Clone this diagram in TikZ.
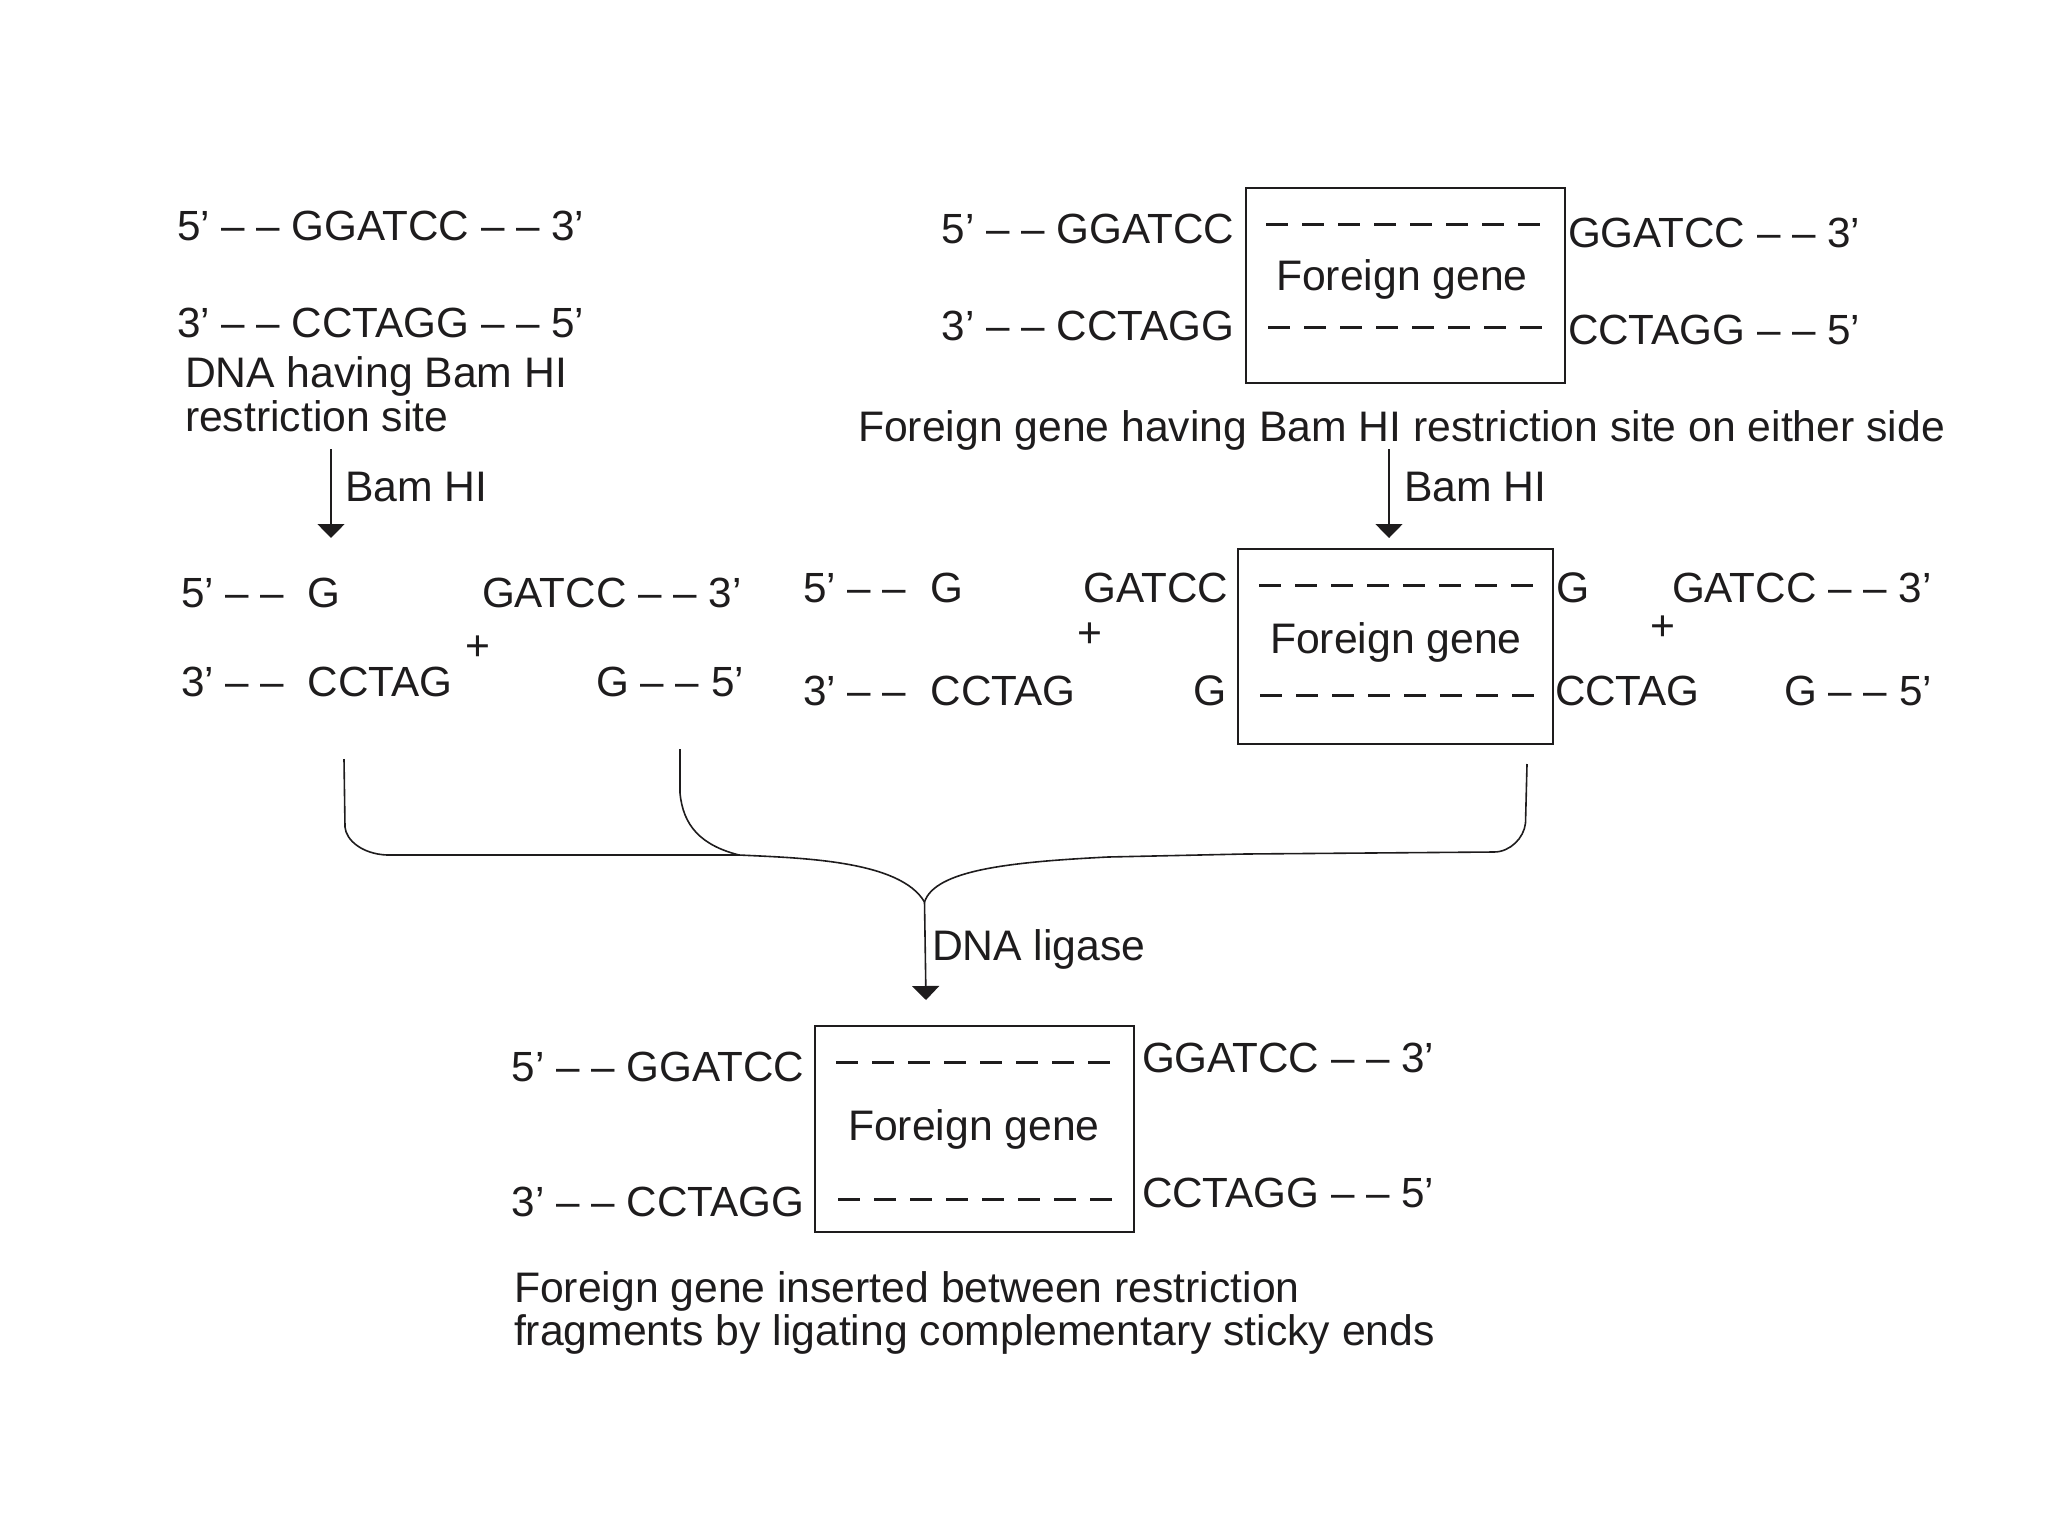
\documentclass[tikz,border=0pt]{standalone}
\usepackage{fontspec}
\setmainfont{Liberation Sans}
\usetikzlibrary{arrows.meta}
\definecolor{ink}{RGB}{30,28,29}
\tikzset{
  lbl/.style={anchor=base west,inner sep=0pt,outer sep=0pt,text=ink,font=\fontsize{21.35}{22}\selectfont},
  rlbl/.style={lbl,anchor=base east},
  seq/.style={font=\fontsize{21.1}{22}\selectfont},
  plus/.style={anchor=center,inner sep=0pt,text=ink,font=\fontsize{21.35}{22}\selectfont},
  gbox/.style={draw=ink,line width=1pt,inner sep=0pt,anchor=north west},
  strand/.style={draw=ink,line width=1.5pt,dash pattern=on 11pt off 7pt},
  link/.style={draw=ink,line width=0.8pt},
  arr/.style={link,-{Triangle[width=13.5pt,length=7pt]}}
}
\begin{document}
\begin{tikzpicture}[x=0.5pt,y=-0.5pt]
\useasboundingbox (0,0) rectangle (2048,1536);

% DNA with site
\node[lbl,seq] (a1) at (177,240) {5’ – – GGATCC – – 3’};
\node[lbl,seq] (a2) at (177,337) {3’ – – CCTAGG – – 5’};
\node[lbl] (a3) at (185,387) {DNA having Bam HI};
\node[lbl] (a4) at (185,431) {restriction site};
\coordinate (p1) at (331,449);
\coordinate (p2) at (331,538);
\draw[arr] (p1) -- (p2);
\node[lbl] (a5) at (345,501) {Bam HI};

% foreign gene with sites
\node[gbox,minimum width=159.5pt,minimum height=97.5pt] (box1) at (1244.7,186.7) {};
\node[rlbl,seq] (b1) at (1234,243) {5’ – – GGATCC};
\node[rlbl,seq] (b2) at (1234,340) {3’ – – CCTAGG};
\node[lbl,seq] (b3) at (1568,247) {GGATCC – – 3’};
\node[lbl,seq] (b4) at (1568,344) {CCTAGG – – 5’};
\node[lbl] (b5) at (1276,290) {Foreign gene};
\coordinate (s1) at (1266,224);
\coordinate (s2) at (1540,224);
\coordinate (s3) at (1268,327);
\coordinate (s4) at (1542,327);
\draw[strand] (s1) -- (s2);
\draw[strand] (s3) -- (s4);
\node[lbl] (b6) at (858,441) {Foreign gene having Bam HI restriction site on either side};
\coordinate (p3) at (1389,449);
\coordinate (p4) at (1389,538);
\draw[arr] (p3) -- (p4);
\node[lbl] (b7) at (1404,501) {Bam HI};

% cut DNA
\node[lbl,seq] (c1) at (181,607) {5’ – –\hspace{11.8pt}G};
\node[lbl,seq] (c2) at (181,696) {3’ – –\hspace{11.8pt}CCTAG};
\node[lbl,seq] (c3) at (482,607) {GATCC – – 3’};
\node[rlbl,seq] (c4) at (744,696) {G – – 5’};
\node[plus] (c5) at (478,648) {+};

% cut foreign gene
\node[gbox,minimum width=157.5pt,minimum height=97.75pt] (box2) at (1236.7,547.7) {};
\node[lbl,seq] (d1) at (803,602) {5’ – –\hspace{12.2pt}G};
\node[lbl,seq] (d2) at (803,705) {3’ – –\hspace{12.2pt}CCTAG};
\node[rlbl,seq] (d3) at (1228,602) {GATCC};
\node[rlbl] (d4) at (1227,705) {G};
\node[plus] (d5) at (1090,635) {+};
\node[lbl] (d6) at (1270,653) {Foreign gene};
\coordinate (s5) at (1259,585);
\coordinate (s6) at (1533,585);
\coordinate (s7) at (1260,695);
\coordinate (s8) at (1534,695);
\draw[strand] (s5) -- (s6);
\draw[strand] (s7) -- (s8);
\node[lbl] (d7) at (1556,602) {G};
\node[lbl,seq] (d8) at (1555,705) {CCTAG};
\node[lbl,seq] (d9) at (1672,602) {GATCC – – 3’};
\node[rlbl,seq] (d10) at (1932,705) {G – – 5’};
\node[plus] (d11) at (1663,628) {+};

% joining lines
\coordinate (q1) at (344,759);
\coordinate (q2) at (680,749);
\coordinate (q3) at (1527,764);
\coordinate (qm) at (739,855);
\coordinate (qj) at (924.5,902);
\coordinate (qe) at (926,1000);
\draw[link] (q1) -- (345,827) .. controls (346,840) and (362,854) .. (387,855) -- (qm)
  .. controls (800,858) and (900,860) .. (qj);
\draw[link] (q2) -- (680,793) .. controls (683,825) and (700,845) .. (qm);
\draw[link] (q3) -- (1525.5,823) .. controls (1524,838) and (1510,852) .. (1494,852) -- (1245,854) -- (1108,857)
  .. controls (1010,862) and (935,870) .. (qj);
\draw[arr] (qj) -- (qe);
\node[lbl] (e1) at (932,960) {DNA ligase};

% ligated product
\node[gbox,minimum width=159.5pt,minimum height=103pt] (box3) at (814,1024.7) {};
\node[rlbl,seq] (f1) at (804,1081) {5’ – – GGATCC};
\node[rlbl,seq] (f2) at (804,1216) {3’ – – CCTAGG};
\node[lbl,seq] (f3) at (1142,1072) {GGATCC – – 3’};
\node[lbl,seq] (f4) at (1142,1207) {CCTAGG – – 5’};
\node[lbl] (f5) at (848,1140) {Foreign gene};
\coordinate (s9) at (836,1062);
\coordinate (s10) at (1110,1062);
\coordinate (s11) at (838,1199);
\coordinate (s12) at (1112,1199);
\draw[strand] (s9) -- (s10);
\draw[strand] (s11) -- (s12);
\node[lbl] (f6) at (514,1302) {Foreign gene inserted between restriction};
\node[lbl] (f7) at (514,1345) {fragments by ligating complementary sticky ends};
\end{tikzpicture}
\end{document}
